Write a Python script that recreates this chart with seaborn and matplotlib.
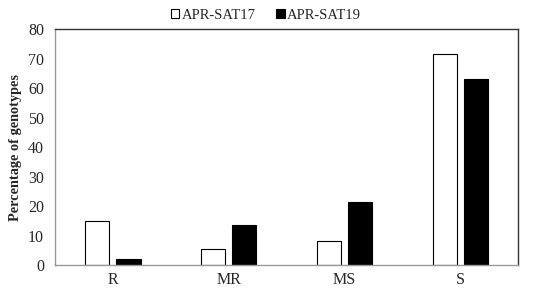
import pandas as pd
import numpy as np
import matplotlib
matplotlib.use("Agg")
import matplotlib.pyplot as plt
import seaborn as sns

# ==============================
# DATA
# ==============================

categories = ["R", "MR", "MS", "S"]
sat17 = [15.1, 5.6, 8.1, 71.4]
sat19 = [1.9, 13.5, 21.3, 63.0]
series_names = ["APR-SAT17", "APR-SAT19"]

df = pd.DataFrame({
    "Category": categories * 2,
    "Value": sat17 + sat19,
    "Series": [series_names[0]] * 4 + [series_names[1]] * 4,
})

# ==============================
# PLOT
# ==============================

sns.set_style("white")
plt.rcParams["font.family"] = ["Liberation Serif", "DejaVu Serif"]

fig, ax = plt.subplots(figsize=(5.5, 2.9), dpi=100)
fig.subplots_adjust(left=0.1, right=0.942, top=0.9, bottom=0.086)

sns.barplot(
    data=df, x="Category", y="Value", hue="Series",
    order=categories, hue_order=series_names,
    palette={"APR-SAT17": "white", "APR-SAT19": "black"},
    width=0.54, gap=0.23, edgecolor="black", linewidth=0.8,
    ax=ax,
)

ax.set_ylim(0, 80)
ax.set_yticks(range(0, 81, 10))
ax.set_xlim(-0.5, 3.5)
ax.set_xlabel("")
ax.set_ylabel("Percentage of genotypes", fontsize=10.3, fontweight="bold", labelpad=4)
ax.tick_params(axis="y", labelsize=11.5, length=0, pad=8)
ax.tick_params(axis="x", labelsize=11.5, length=0, pad=5)

# category boundary ticks on x axis
ax.set_xticks([-0.5, 0.5, 1.5, 2.5, 3.5], minor=True)
ax.tick_params(axis="x", which="minor", length=4, direction="out", color="#888888")

for side in ["top", "right"]:
    ax.spines[side].set_visible(True)
    ax.spines[side].set_color("#333333")
    ax.spines[side].set_linewidth(1.0)
for side in ["left", "bottom"]:
    ax.spines[side].set_color("#999999")
    ax.spines[side].set_linewidth(1.0)

ax.legend(
    loc="lower center", bbox_to_anchor=(0.455, 1.0), ncol=2, frameon=False,
    fontsize=10.5, handlelength=0.6, handleheight=0.6, handletextpad=0.15,
    columnspacing=1.4, borderaxespad=0.1,
)

plt.savefig("out.png", dpi=100)
